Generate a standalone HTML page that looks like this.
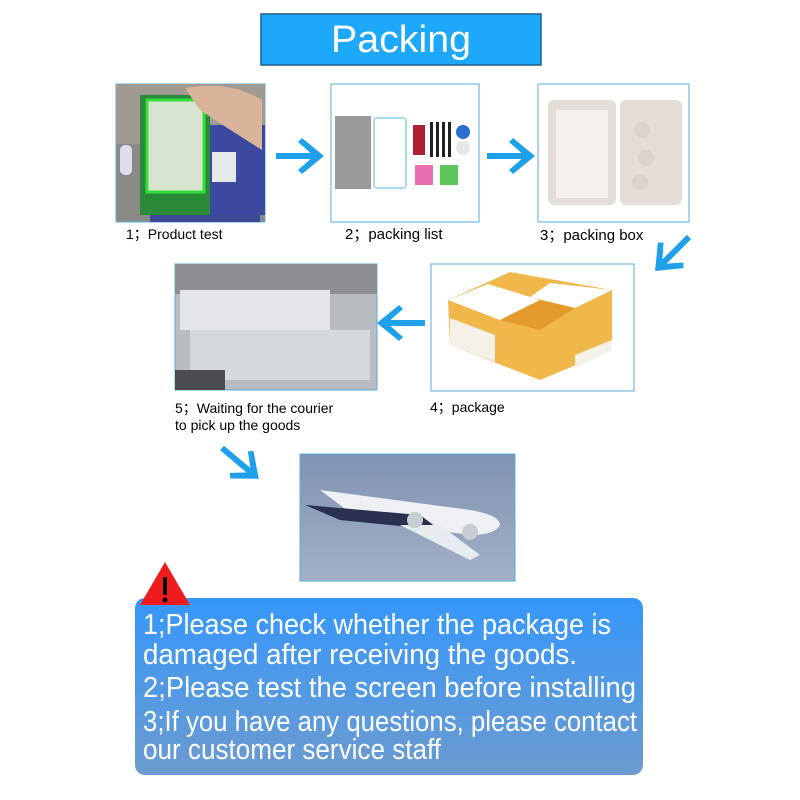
<!DOCTYPE html>
<html><head><meta charset="utf-8"><style>
html,body{margin:0;padding:0;background:#fff;}
svg{display:block}
</style></head><body>
<svg width="800" height="800" viewBox="0 0 800 800" xmlns="http://www.w3.org/2000/svg" font-family="Liberation Sans, sans-serif">
<defs>
<linearGradient id="bb" x1="0" y1="0" x2="0" y2="1"><stop offset="0" stop-color="#3597fb"/><stop offset="1" stop-color="#6c9bcf"/></linearGradient>
<linearGradient id="sky" x1="0" y1="0" x2="0" y2="1"><stop offset="0" stop-color="#7f93b3"/><stop offset="1" stop-color="#a3b0c6"/></linearGradient>
<g id="arr"><path d="M0,-3 L38,-3 L38,3 L0,3 Z" fill="#1fa0ea"/><path d="M26,-18 L48,0 L26,18 L22,14 L38,0 L22,-14 Z" fill="#1fa0ea"/></g>
</defs>
<!-- header -->
<rect x="261" y="14" width="280" height="51" fill="#1ea8fb" stroke="#1a5d8c" stroke-width="1.5"/>
<text x="401" y="52" font-size="38" fill="#fff" text-anchor="middle" textLength="140" lengthAdjust="spacingAndGlyphs">Packing</text>

<!-- img1 -->
<rect x="116" y="84" width="149" height="138" fill="#8b8a86" stroke="#5aaed8"/>
<rect x="116" y="84" width="149" height="60" fill="#a09a92"/>
<rect x="150" y="210" width="110" height="12" fill="#3a4a95"/>
<rect x="170" y="125" width="95" height="90" fill="#3b4aa0"/>
<rect x="140" y="95" width="70" height="120" fill="#2b8a3a"/>
<rect x="147" y="100" width="57" height="92" fill="#d8e4d0" stroke="#33e03a" stroke-width="3"/>
<rect x="212" y="152" width="24" height="30" fill="#e6eae6"/>
<path d="M185,88 Q230,80 262,100 L262,150 Q230,130 200,110 Z" fill="#d9b49a"/>
<rect x="120" y="145" width="12" height="30" fill="#dde" rx="5"/>

<!-- img2 -->
<rect x="331" y="84" width="148" height="138" fill="#fff" stroke="#5aaed8"/>
<rect x="335" y="116" width="36" height="73" fill="#9a9a9a"/>
<rect x="374" y="118" width="32" height="70" fill="none" stroke="#a8dced" stroke-width="2" rx="3"/>
<rect x="413" y="125" width="12" height="30" fill="#b02030"/>
<rect x="430" y="122" width="3" height="35" fill="#222"/><rect x="436" y="122" width="3" height="35" fill="#222"/><rect x="442" y="122" width="3" height="35" fill="#222"/><rect x="448" y="122" width="3" height="35" fill="#222"/>
<circle cx="463" cy="132" r="7" fill="#2a6fd0"/><circle cx="463" cy="148" r="7" fill="#e6e6e6"/>
<rect x="415" y="165" width="18" height="20" fill="#e96fb0"/><rect x="440" y="165" width="18" height="20" fill="#5fc45a"/>

<!-- img3 -->
<rect x="538" y="84" width="151" height="138" fill="#fff" stroke="#5aaed8"/>
<rect x="548" y="100" width="68" height="105" fill="#e5ddd8" rx="6"/>
<rect x="556" y="110" width="52" height="88" fill="#f4efec"/>
<rect x="620" y="100" width="62" height="105" fill="#e5ddd8" rx="6"/>
<circle cx="642" cy="130" r="8" fill="#ddd3cd"/><circle cx="646" cy="158" r="8" fill="#ddd3cd"/><circle cx="640" cy="182" r="8" fill="#ddd3cd"/>

<!-- arrows row1 -->
<use href="#arr" x="276" y="156"/>
<use href="#arr" x="487" y="156"/>
<use href="#arr" transform="translate(689,237) rotate(135)"/>

<!-- labels row1 -->
<text x="126" y="239" font-size="14" fill="#000">1；Product test</text>
<text x="345" y="239" font-size="15" fill="#000">2；packing list</text>
<text x="540" y="240" font-size="15" fill="#000">3；packing box</text>

<!-- img4 -->
<rect x="431" y="264" width="203" height="127" fill="#fff" stroke="#5aaed8"/>
<path d="M448,300 L510,272 L612,290 L612,350 L540,380 L450,345 Z" fill="#f0b84a"/>
<path d="M448,300 L488,284 L540,300 L500,320 Z" fill="#fff"/>
<path d="M550,283 L612,290 L575,308 L530,297 Z" fill="#fff"/>
<path d="M450,345 L450,318 L495,335 L495,362 Z" fill="#f5f0e8"/>
<path d="M575,355 L612,340 L612,350 L575,368 Z" fill="#f5f0e8"/>
<path d="M500,320 L540,300 L575,308 L540,330 Z" fill="#e59a2c"/>

<!-- img5 -->
<rect x="175" y="264" width="202" height="126" fill="#b9bcc0" stroke="#5aaed8"/>
<rect x="175" y="264" width="202" height="30" fill="#8d8f92"/>
<rect x="180" y="290" width="150" height="40" fill="#e3e5e8"/>
<rect x="190" y="330" width="180" height="50" fill="#d5d8dc"/>
<rect x="175" y="370" width="50" height="20" fill="#4a4c50"/>

<use href="#arr" transform="translate(425,323) rotate(180)"/>
<text x="430" y="412" font-size="14" fill="#000">4；package</text>
<text x="175" y="413" font-size="14" fill="#000">5；Waiting for the courier</text>
<text x="175" y="430" font-size="14" fill="#000">to pick up the goods</text>
<use href="#arr" transform="translate(222,448) rotate(40)"/>

<!-- plane -->
<rect x="300" y="454" width="215" height="127" fill="url(#sky)" stroke="#5aaed8"/>
<path d="M320,490 L470,510 Q500,515 500,525 Q495,535 470,535 L360,520 Z" fill="#eef0f4"/>
<path d="M305,505 L420,515 L440,530 L340,520 Z" fill="#2a3050"/>
<path d="M400,525 L470,560 L480,555 L440,525 Z" fill="#e8ebf0"/>
<circle cx="415" cy="520" r="8" fill="#c8ccd4"/><circle cx="470" cy="532" r="8" fill="#c8ccd4"/>

<!-- warning box -->
<rect x="135" y="598" width="508" height="177" rx="10" fill="url(#bb)"/>
<path d="M165,562 L190,605 L140,605 Z" fill="#ee1c1c"/>
<rect x="163" y="577" width="4" height="18" fill="#000"/><circle cx="165" cy="600" r="2.5" fill="#000"/>
<g fill="#fff" font-size="29">
<text x="143" y="634" textLength="468" lengthAdjust="spacingAndGlyphs">1;Please check whether the package is</text>
<text x="143" y="664" textLength="434" lengthAdjust="spacingAndGlyphs">damaged after receiving the goods.</text>
<text x="143" y="697" textLength="493" lengthAdjust="spacingAndGlyphs">2;Please test the screen before installing</text>
<text x="143" y="731" textLength="494" lengthAdjust="spacingAndGlyphs">3;If you have any questions, please contact</text>
<text x="143" y="759" textLength="298" lengthAdjust="spacingAndGlyphs">our customer service staff</text>
</g>
</svg>
</body></html>
